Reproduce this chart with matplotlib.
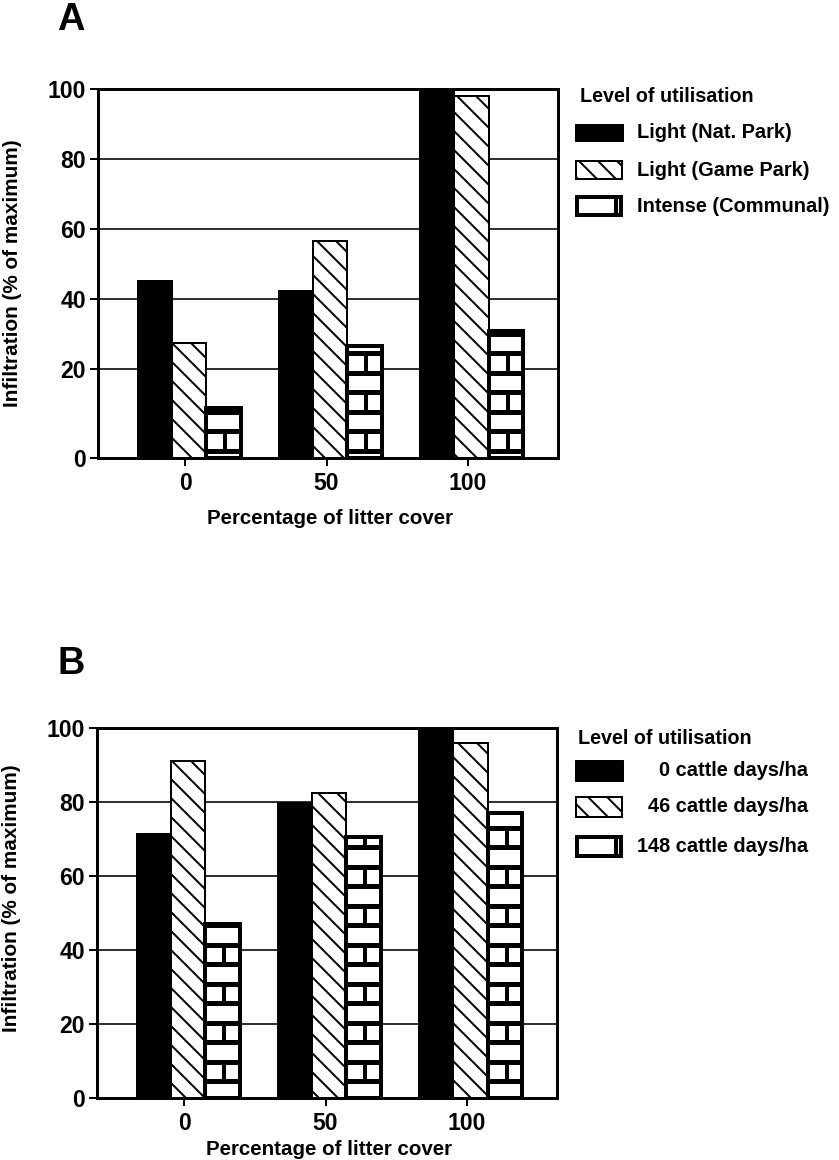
import numpy as np
import matplotlib.pyplot as plt
from matplotlib.patches import Rectangle
from matplotlib.lines import Line2D
from matplotlib.collections import LineCollection

W, H = 839, 1160
DPI = 114


def P(px):
    # pixel size -> points at the chosen dpi
    return px * 72 / DPI


plt.rcParams['font.family'] = ['Liberation Sans', 'DejaVu Sans']
plt.rcParams['font.weight'] = 'bold'
plt.rcParams['hatch.linewidth'] = P(2)

# data
litter_cover = ['0', '50', '100']
y_tick_labels = ['0', '20', '40', '60', '80', '100']

labels_a = ['Light (Nat. Park)', 'Light (Game Park)', 'Intense (Communal)']
nat_park = [45.5, 42.5, 100]
game_park = [27.5, 56.5, 98]
communal = [9, 26.5, 31]

labels_b = ['0 cattle days/ha', '46 cattle days/ha', '148 cattle days/ha']
cattle_0 = [71.5, 80, 100]
cattle_46 = [91, 82.5, 96]
cattle_148 = [47, 70.5, 77]

HATCH = '\\\\'

fig = plt.figure(figsize=(W / DPI, H / DPI), dpi=DPI)


def px_axes(left, top, right, bottom):
    return fig.add_axes([left / W, 1 - bottom / H, (right - left) / W, (bottom - top) / H])


ax_a = px_axes(98, 89, 558, 458)
ax_b = px_axes(97, 728, 557, 1098)

x = np.arange(len(litter_cover))
offsets = [-0.22, 0.025, 0.27]
bar_w = 0.245


def add_bricks(ax, bars, ymin, phase):
    ppu = ax.get_window_extent().height / (100 - ymin)
    row_h = 19.5 / ppu
    for rect in bars:
        x0, w = rect.get_x(), rect.get_width()
        top = rect.get_y() + rect.get_height()
        hseg, vseg = [], []
        k = 0
        y = ymin + phase * row_h
        while y < top:
            hseg.append([(x0, y), (x0 + w, y)])
            if k % 2 == 0:
                xv = x0 + 0.55 * w
                vseg.append([(xv, y), (xv, min(y + row_h, top))])
            y += row_h
            k += 1
        for segs, lw in ((hseg, P(5)), (vseg, P(4))):
            lc = LineCollection(segs, colors='black', linewidths=lw,
                                capstyle='butt', zorder=1.5)
            lc.set_clip_path(rect)
            ax.add_collection(lc)


def draw_panel(ax, s1, s2, s3, ymin, phase):
    ax.set_xlim(-0.62, 2.64)
    ax.set_ylim(ymin, 100)
    ax.set_axisbelow(True)
    ax.yaxis.grid(True, color='black', lw=P(1.6))
    ax.bar(x + offsets[0], np.array(s1) - ymin, bar_w, bottom=ymin,
           color='black', edgecolor='black', lw=P(1))
    ax.bar(x + offsets[1], np.array(s2) - ymin, bar_w, bottom=ymin,
           facecolor='white', edgecolor='black', hatch=HATCH, lw=P(2))
    bricks = ax.bar(x + offsets[2], np.array(s3) - ymin, bar_w, bottom=ymin,
                    facecolor='white', edgecolor='black', lw=P(4))
    add_bricks(ax, bricks, ymin, phase)

    ax.set_xticks(x)
    ax.set_xticklabels(litter_cover)
    ax.set_yticks([ymin, 20, 40, 60, 80, 100])
    ax.set_yticklabels(y_tick_labels)
    ax.tick_params(axis='both', direction='out', length=P(8), width=P(2),
                   labelsize=P(23), color='black')
    ax.tick_params(axis='y', pad=P(4))
    ax.tick_params(axis='x', pad=P(6))
    for sp in ax.spines.values():
        sp.set_linewidth(P(3))
    ax.set_ylabel('Infiltration (% of maximum)', fontsize=P(20.8), fontweight='bold')
    ax.set_xlabel('Percentage of litter cover', fontsize=P(20.5), fontweight='bold')


draw_panel(ax_a, nat_park, game_park, communal, -5.4, 0.36)
draw_panel(ax_b, cattle_0, cattle_46, cattle_148, 0, 0.87)

ax_a.yaxis.set_label_coords(-0.165, 0.5)
ax_b.yaxis.set_label_coords(-0.165, 0.54)
ax_a.xaxis.set_label_coords(0.504, -0.138)
ax_b.xaxis.set_label_coords(0.504, -0.113)

# panel letters
fig.text(57 / W, 1 - 20 / H, 'A', fontsize=P(38), fontweight='bold', va='center', ha='left')
fig.text(57 / W, 1 - 664 / H, 'B', fontsize=P(38), fontweight='bold', va='center', ha='left')


# legends drawn by hand (pixel layout)
def fig_rect(x0, y0, x1, y1, **kw):
    r = Rectangle((x0 / W, 1 - y1 / H), (x1 - x0) / W, (y1 - y0) / H,
                  transform=fig.transFigure, **kw)
    fig.add_artist(r)
    return r


def legend(title, labels, title_xy, rows, text_x, ha):
    fig.text(title_xy[0] / W, 1 - title_xy[1] / H, title, fontsize=P(19.7),
             va='center', ha='left')
    (y0, y1), (y2, y3), (y4, y5) = rows
    fig_rect(575, y0, 623, y1, facecolor='black', edgecolor='black', lw=P(1))
    fig_rect(576, y2, 622, y3, facecolor='white', edgecolor='black', hatch=HATCH, lw=P(2))
    fig_rect(577, y4, 621, y5, facecolor='white', edgecolor='black', lw=P(4))
    fig.add_artist(Line2D([616 / W, 616 / W], [1 - y4 / H, 1 - y5 / H],
                          transform=fig.transFigure, color='black', lw=P(4)))
    for lab, (ya, yb) in zip(labels, rows):
        fig.text(text_x / W, 1 - (ya + yb) / 2 / H, lab, fontsize=P(20),
                 va='center', ha=ha)


legend('Level of utilisation', labels_a, (580, 97),
       [(124, 141), (161, 179), (197, 215)], 637, 'left')
legend('Level of utilisation', labels_b, (578, 738),
       [(760, 781), (797, 817), (837, 856)], 808, 'right')

fig.savefig('out.png', dpi=DPI)
